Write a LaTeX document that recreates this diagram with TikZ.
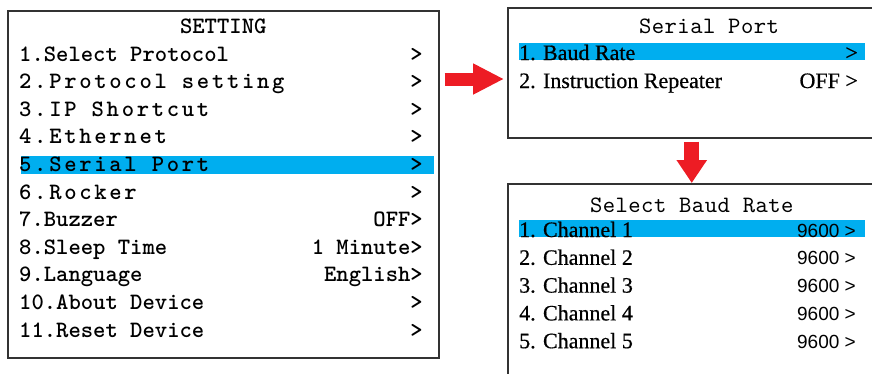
\documentclass[tikz,border=0pt]{standalone}
\usepackage{fontspec}
\setmainfont{Liberation Serif}
\newfontfamily\lcdfont{lmmonolt10-bold}[Extension=.otf]
\newfontfamily\lcdwide{lmmonolt10-bold}[Extension=.otf,LetterSpace=11.5]
\newfontfamily\lcdtitle{lmmono10-regular}[Extension=.otf,LetterSpace=2]
\newfontfamily\lcdserif{Liberation Serif}[FakeBold=0.6]
\newfontfamily\lcdsans{Liberation Sans}
\usetikzlibrary{arrows.meta}
\definecolor{selblue}{HTML}{00AEEF}
\definecolor{arrowred}{HTML}{ED1C24}
\definecolor{framegray}{HTML}{333333}
\tikzset{
  panel/.style={draw=framegray, line width=1.5pt, anchor=north west, inner sep=0pt},
  item/.style={anchor=base west, inner sep=0pt, font=\fontsize{23.5}{28}\lcdfont},
  itemwide/.style={item, font=\fontsize{23.5}{28}\lcdwide},
  val/.style={anchor=base east, inner sep=0pt, font=\fontsize{23.5}{28}\lcdfont},
  title/.style={anchor=base, inner sep=0pt, font=\fontsize{23.5}{28}\lcdtitle},
  entry/.style={anchor=base west, inner sep=0pt, font=\fontsize{22}{26}\lcdserif},
  rate/.style={anchor=base east, inner sep=0pt, font=\fontsize{19}{23}\lcdsans},
  bigarrow/.style={arrowred, line width=#1}
}
\begin{document}
\begin{tikzpicture}[x=1pt,y=-1pt]
  \useasboundingbox (0,0) rectangle (872,373);
  \clip (0,0) rectangle (872,373);
  \node[panel, minimum width=431pt, minimum height=347pt] (setting) at (7,10) {};
  \node[panel, minimum width=368pt, minimum height=130pt] (serial) at (507,7) {};
  \node[panel, minimum width=368pt, minimum height=220pt] (baud) at (507,183) {};
  \fill[selblue] (21,156) rectangle (434,174);
  \fill[selblue] (519,43) rectangle (865,60);
  \fill[selblue] (519,220) rectangle (865,237);
  \node[title, font=\fontsize{23.5}{28}\lcdfont] (settitle) at (setting.north |- 0,33) {SETTING};
  \foreach \t/\s [count=\i] in {1.Select Protocol/item, 2.Protocol setting/itemwide,
      3.IP Shortcut/itemwide, 4.Ethernet/itemwide, 5.Serial Port/itemwide,
      6.Rocker/itemwide, 7.Buzzer/item, 8.Sleep Time/item, 9.Language/item,
      10.About Device/item, 11.Reset Device/item}
    \node[\s] (set\i) at (19,{61+27.6*(\i-1)}) {\t};
  \foreach \v [count=\i] in {>,>,>,>,>,>,OFF>,1 Minute>,English>,>,>}
    \node[val] (setv\i) at (423,{61+27.6*(\i-1)}) {\v};
  \node[title] (sertitle) at (709,33) {Serial Port};
  \node[entry] (ser1) at (519,60) {1. Baud Rate};
  \node[entry] (ser2) at (519,88) {2. Instruction Repeater};
  \node[entry, anchor=base east] (serv1) at (858,60) {>};
  \node[entry, anchor=base east] (serv2) at (858,88) {OFF >};
  \node[title] (baudtitle) at (baud.north |- 0,212) {Select Baud Rate};
  \foreach \i in {1,...,5}{
    \node[entry] (ch\i) at (519,{237+27.8*(\i-1)}) {\i. Channel \i};
    \node[rate] (chv\i) at (856,{237+27.8*(\i-1)}) {9600 >};
  }
  \draw[bigarrow=13pt, -{Triangle[length=31pt,width=29pt]}, shorten <=5pt, shorten >=3pt]
    (setting.east |- 0,79) -- (serial.west |- 0,79);
  \draw[bigarrow=15pt, -{Triangle[length=23pt,width=29pt]}, shorten <=3pt]
    (serial.south) -- (baud.north);
\end{tikzpicture}
\end{document}
